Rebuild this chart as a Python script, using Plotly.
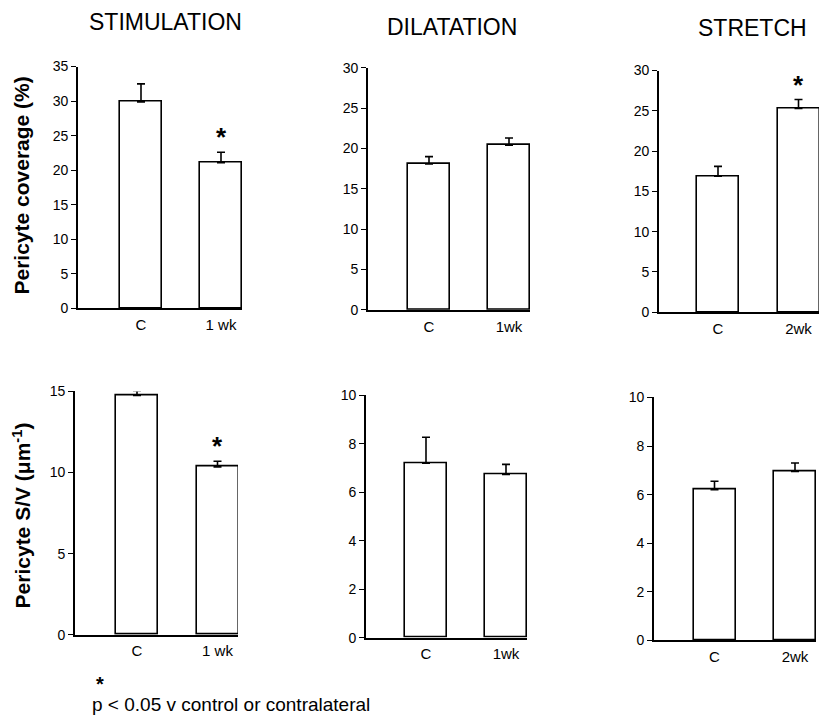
import plotly.graph_objects as go

W, H = 821, 716

# ---- data ----
col_titles = ["STIMULATION", "DILATATION", "STRETCH"]
row_titles = ["Pericyte coverage (%)", "Pericyte S/V (μm<sup>-1</sup>)"]

cats_stim = ["C", "1 wk"]
cats_dil = ["C", "1wk"]
cats_str = ["C", "2wk"]

stim_cov = [29.9, 21.1]
stim_cov_err = [2.6, 1.5]
dil_cov = [18.1, 20.4]
dil_cov_err = [0.9, 0.9]
str_cov = [16.9, 25.3]
str_cov_err = [1.2, 1.1]

stim_sv = [14.75, 10.35]
stim_sv_err = [0.3, 0.35]
dil_sv = [7.2, 6.73]
dil_sv_err = [1.07, 0.42]
str_sv = [6.2, 6.95]
str_sv_err = [0.35, 0.35]

sig_stim_cov = [False, True]
sig_dil_cov = [False, False]
sig_str_cov = [False, True]
sig_stim_sv = [False, True]
sig_dil_sv = [False, False]
sig_str_sv = [False, False]

footnote = "p < 0.05 v control or contralateral"

# ---- panel geometry (target pixels) ----
panels = [
    dict(cats=cats_stim, vals=stim_cov, err=stim_cov_err, sig=sig_stim_cov,
         x0=78, x1=242, c1=141, c2=221, ytop=66, ybot=308, ymax=35, dtick=5),
    dict(cats=cats_dil, vals=dil_cov, err=dil_cov_err, sig=sig_dil_cov,
         x0=368, x1=530, c1=429, c2=509, ytop=67.3, ybot=309.3, ymax=30, dtick=5),
    dict(cats=cats_str, vals=str_cov, err=str_cov_err, sig=sig_str_cov,
         x0=659, x1=819, c1=718, c2=798.5, ytop=70, ybot=311.7, ymax=30, dtick=5),
    dict(cats=cats_stim, vals=stim_sv, err=stim_sv_err, sig=sig_stim_sv,
         x0=75, x1=238, c1=137, c2=217.5, ytop=391, ybot=634.3, ymax=15, dtick=5),
    dict(cats=cats_dil, vals=dil_sv, err=dil_sv_err, sig=sig_dil_sv,
         x0=366, x1=527, c1=426, c2=506, ytop=394.8, ybot=637.3, ymax=10, dtick=2),
    dict(cats=cats_str, vals=str_sv, err=str_sv_err, sig=sig_str_sv,
         x0=654, x1=816, c1=714.5, c2=795, ytop=397, ybot=640, ymax=10, dtick=2),
]

FONT = "Liberation Sans, Arial, Helvetica, sans-serif"
BAR_PX = 42

# empirical vertical correction of the rendering
VA, VS = 7.4, 0.978


def py(y):
    return 1 - ((y - VA) / VS) / H


def px(x):
    return x / W


fig = go.Figure()
annotations = []
layout_axes = {}

for i, p in enumerate(panels, start=1):
    sp = p["c2"] - p["c1"]
    xr = [(p["x0"] - p["c1"]) / sp, (p["x1"] - p["c1"]) / sp]
    xs = list(range(len(p["cats"])))
    xa = "x" if i == 1 else f"x{i}"
    ya = "y" if i == 1 else f"y{i}"
    fig.add_trace(go.Bar(
        x=xs, y=p["vals"], width=BAR_PX / sp,
        marker=dict(color="white", line=dict(color="black", width=1.6)),
        error_y=dict(type="data", symmetric=False, array=p["err"],
                     arrayminus=[0] * len(p["err"]), color="black",
                     thickness=1.6, width=4),
        xaxis=xa, yaxis=ya, showlegend=False, hoverinfo="skip",
    ))
    for j, s in enumerate(p["sig"]):
        if s:
            annotations.append(dict(
                x=xs[j], y=p["vals"][j] + p["err"][j], xref=xa, yref=ya,
                text="<b>*</b>", showarrow=False, yanchor="bottom",
                yshift=-2, font=dict(family=FONT, size=26, color="black"),
            ))
    xkey = "xaxis" if i == 1 else f"xaxis{i}"
    ykey = "yaxis" if i == 1 else f"yaxis{i}"
    layout_axes[xkey] = dict(
        domain=[px(p["x0"]), px(p["x1"])], anchor=ya, range=xr,
        showline=True, linecolor="black", linewidth=1.6,
        showgrid=False, zeroline=False, ticks="",
        tickvals=xs, ticktext=p["cats"], ticklabelstandoff=2,
        tickfont=dict(family=FONT, size=15, color="black"), fixedrange=True,
    )
    layout_axes[ykey] = dict(
        domain=[py(p["ybot"]), py(p["ytop"])], anchor=xa,
        range=[0, p["ymax"]], dtick=p["dtick"], tick0=0,
        showline=True, linecolor="black", linewidth=1.6,
        showgrid=False, zeroline=False, ticks="outside", ticklen=5,
        tickwidth=1.4, tickcolor="black",
        tickfont=dict(family=FONT, size=14, color="black"), fixedrange=True,
    )

# column titles
for t, cx, cy in zip(col_titles, [165, 452, 752], [21, 26, 27]):
    annotations.append(dict(x=px(cx), y=py(cy), xref="paper", yref="paper",
                            text=t, showarrow=False, xanchor="center", yanchor="middle",
                            font=dict(family=FONT, size=23, color="black")))

# row titles
for t, cx, cy in zip(row_titles, [22, 22], [185, 515]):
    annotations.append(dict(x=px(cx), y=py(cy), xref="paper", yref="paper",
                            text=f"<b>{t}</b>", showarrow=False, textangle=-90,
                            xanchor="center", yanchor="middle",
                            font=dict(family=FONT, size=21, color="black")))

# footnote
annotations.append(dict(x=px(100), y=py(684), xref="paper", yref="paper",
                        text="<b>*</b>", showarrow=False, xanchor="center", yanchor="middle",
                        font=dict(family=FONT, size=20, color="black")))
annotations.append(dict(x=px(90), y=py(704), xref="paper", yref="paper",
                        text=footnote, showarrow=False, xanchor="left", yanchor="middle",
                        font=dict(family=FONT, size=19, color="black")))

fig.update_layout(
    width=W, height=H, margin=dict(l=0, r=0, t=0, b=0),
    paper_bgcolor="white", plot_bgcolor="white",
    annotations=annotations, bargap=0, **layout_axes,
)

post = (
    "document.documentElement.style.margin='0';"
    "document.documentElement.style.overflow='hidden';"
    "document.body.style.margin='0';"
    "document.body.style.overflow='hidden';"
    "var g=document.getElementsByClassName('plotly-graph-div')[0];"
    "if(g){g.style.position='fixed';g.style.top='0px';g.style.left='0px';}"
)

fig.write_html("out.html", config={"displayModeBar": False}, post_script=post)
